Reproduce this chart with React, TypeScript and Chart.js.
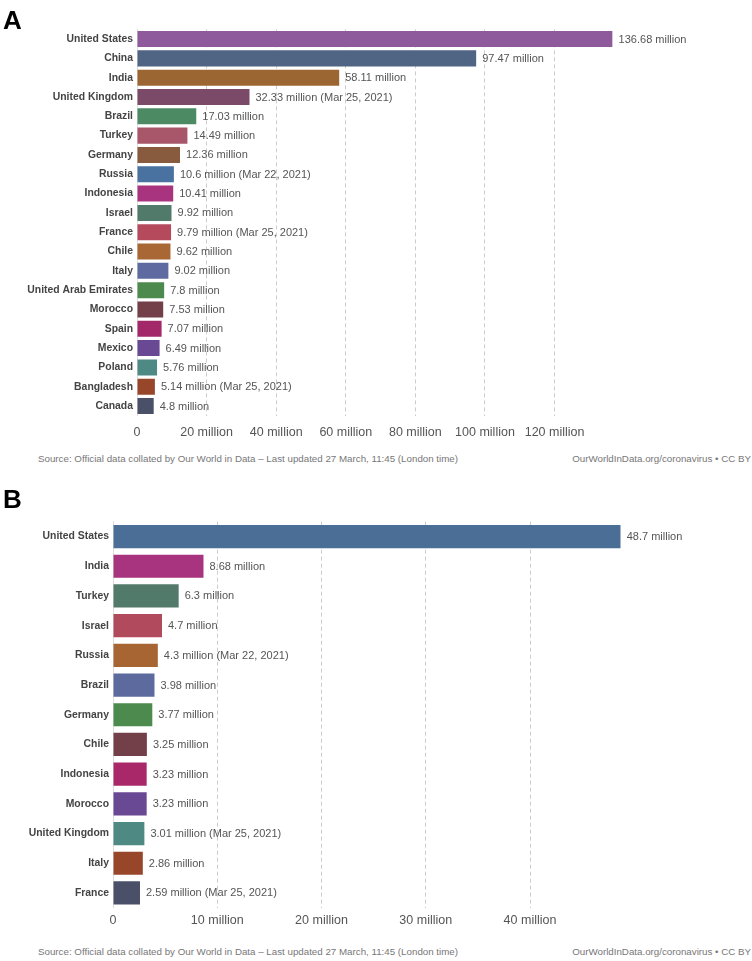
import React, { useEffect, useRef } from "react";
import { Chart, registerables } from "chart.js";

Chart.register(...registerables);

// ---------- Data ----------
const countriesA = [
  "United States", "China", "India", "United Kingdom", "Brazil", "Turkey", "Germany",
  "Russia", "Indonesia", "Israel", "France", "Chile", "Italy", "United Arab Emirates",
  "Morocco", "Spain", "Mexico", "Poland", "Bangladesh", "Canada",
];
const valuesA = [
  136.68, 97.47, 58.11, 32.33, 17.03, 14.49, 12.36, 10.6, 10.41, 9.92, 9.79, 9.62, 9.02,
  7.8, 7.53, 7.07, 6.49, 5.76, 5.14, 4.8,
];
const datesA = [
  "", "", "", "Mar 25, 2021", "", "", "", "Mar 22, 2021", "", "", "Mar 25, 2021", "", "",
  "", "", "", "", "", "Mar 25, 2021", "",
];
const colorsA = [
  "#8e5a9b", "#506584", "#9b6632", "#7a4a68", "#4c8a63", "#a85669", "#885a3e",
  "#4a72a0", "#a8347f", "#527a6b", "#b44a5c", "#a86734", "#5e6aa0", "#4c8a4e",
  "#733f49", "#a3286a", "#6a4994", "#4e8a83", "#98462a", "#4a5068",
];

const countriesB = [
  "United States", "India", "Turkey", "Israel", "Russia", "Brazil", "Germany", "Chile",
  "Indonesia", "Morocco", "United Kingdom", "Italy", "France",
];
const valuesB = [48.7, 8.68, 6.3, 4.7, 4.3, 3.98, 3.77, 3.25, 3.23, 3.23, 3.01, 2.86, 2.59];
const datesB = [
  "", "", "", "", "Mar 22, 2021", "", "", "", "", "", "Mar 25, 2021", "", "Mar 25, 2021",
];
const colorsB = [
  "#4a6e95", "#a8347f", "#527a6b", "#b04a5c", "#a86534", "#5d6a9e", "#4c8a4e",
  "#733f49", "#a8286a", "#6a4994", "#4e8a83", "#98462a", "#4a5068",
];

const stepA = 20;
const stepB = 10;

const sourceText =
  "Source: Official data collated by Our World in Data \u2013 Last updated 27 March, 11:45 (London time)";
const creditText = "OurWorldInData.org/coronavirus \u2022 CC BY";

const FONT = "'Liberation Sans', Arial, sans-serif";

if (typeof document !== "undefined") {
  document.body.style.margin = "0";
}

const valueLabelPlugin = {
  id: "valueLabels",
  afterDatasetsDraw(chart: any, _args: any, opts: any) {
    const ctx = chart.ctx;
    const meta = chart.getDatasetMeta(0);
    const ds = chart.data.datasets[0];
    const dates: string[] = opts.dates || [];
    ctx.save();
    ctx.font = `11px ${FONT}`;
    ctx.fillStyle = "#555555";
    ctx.textAlign = "left";
    ctx.textBaseline = "middle";
    meta.data.forEach((bar: any, i: number) => {
      const v = ds.data[i];
      const txt = `${v} million` + (dates[i] ? ` (${dates[i]})` : "");
      ctx.fillText(txt, bar.x + 6, bar.y + 0.5);
    });
    ctx.restore();
  },
};

type PanelProps = {
  labels: string[];
  values: number[];
  colors: string[];
  dates: string[];
  step: number;
  width: number;
  height: number;
  yWidth: number;
  padTop: number;
  padRight: number;
  xHeight: number;
  tickPad: number;
  barPct: number;
};

function BarPanel(p: PanelProps) {
  const ref = useRef<HTMLCanvasElement | null>(null);
  useEffect(() => {
    if (!ref.current) return;
    const maxV = Math.max(...p.values);
    const chart = new Chart(ref.current, {
      type: "bar",
      data: {
        labels: p.labels,
        datasets: [
          {
            data: p.values,
            backgroundColor: p.colors,
            borderWidth: 0,
            barPercentage: p.barPct,
            categoryPercentage: 1,
          },
        ],
      },
      plugins: [valueLabelPlugin],
      options: {
        indexAxis: "y",
        responsive: false,
        animation: false,
        devicePixelRatio: 1,
        layout: { padding: { top: p.padTop, right: p.padRight, left: 0, bottom: 0 } },
        plugins: {
          legend: { display: false },
          tooltip: { enabled: false },
          valueLabels: { dates: p.dates },
        } as any,
        scales: {
          x: {
            type: "linear",
            min: 0,
            max: maxV,
            afterFit: (s: any) => {
              s.height = p.xHeight;
            },
            ticks: {
              stepSize: p.step,
              includeBounds: false,
              padding: p.tickPad,
              color: "#555555",
              font: { family: FONT, size: 12.5 },
              callback: (v: any) => (Number(v) === 0 ? "0" : `${v} million`),
            },
            grid: {
              color: (c: any) => (c.tick && c.tick.value === 0 ? "rgba(0,0,0,0)" : "#cccccc"),
              lineWidth: 1,
              drawTicks: false,
            },
            border: { display: false, dash: [4, 3] },
          },
          y: {
            afterFit: (s: any) => {
              s.width = p.yWidth;
            },
            ticks: {
              padding: 4,
              color: "#444444",
              font: { family: FONT, size: 10.4, weight: "bold" },
              autoSkip: false,
            },
            grid: { display: false, drawTicks: false },
            border: { display: true, color: "#dddddd", width: 1 },
          },
        },
      } as any,
    });
    return () => chart.destroy();
  }, []);
  return (
    <canvas
      ref={ref}
      width={p.width}
      height={p.height}
      style={{ width: p.width, height: p.height, display: "block" }}
    />
  );
}

const panelLabel: React.CSSProperties = {
  position: "absolute",
  left: 3,
  fontFamily: FONT,
  fontWeight: "bold",
  fontSize: 26,
  lineHeight: "26px",
  color: "#000",
  zIndex: 2,
};

const srcStyle: React.CSSProperties = {
  position: "absolute",
  fontFamily: FONT,
  fontSize: 9.75,
  lineHeight: "12px",
  color: "#777777",
  whiteSpace: "nowrap",
};

export default function App() {
  return (
    <div style={{ position: "relative", width: 752, height: 961, background: "#fff", overflow: "hidden" }}>
      <div style={{ position: "absolute", top: 0, left: 0 }}>
        <BarPanel
          labels={countriesA}
          values={valuesA}
          colors={colorsA}
          dates={datesA}
          step={stepA}
          width={752}
          height={450}
          yWidth={137}
          padTop={29.4}
          padRight={139.4}
          xHeight={34.3}
          tickPad={9.8}
          barPct={0.83}
        />
      </div>
      <div style={{ ...panelLabel, top: 7 }}>A</div>
      <div style={{ ...srcStyle, top: 453, left: 38 }}>{sourceText}</div>
      <div style={{ ...srcStyle, top: 453, right: 1 }}>{creditText}</div>

      <div style={{ position: "absolute", top: 480, left: 0 }}>
        <BarPanel
          labels={countriesB}
          values={valuesB}
          colors={colorsB}
          dates={datesB}
          step={stepB}
          width={752}
          height={450}
          yWidth={113}
          padTop={41.7}
          padRight={131.3}
          xHeight={22.2}
          tickPad={5.5}
          barPct={0.78}
        />
      </div>
      <div style={{ ...panelLabel, top: 486 }}>B</div>
      <div style={{ ...srcStyle, top: 946, left: 38 }}>{sourceText}</div>
      <div style={{ ...srcStyle, top: 946, right: 1 }}>{creditText}</div>
    </div>
  );
}
